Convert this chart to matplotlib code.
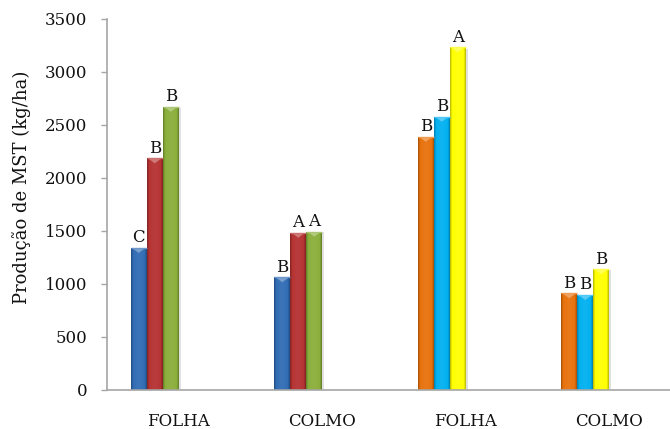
import numpy as np
import matplotlib
matplotlib.use("Agg")
import matplotlib.pyplot as plt
from matplotlib.patches import Rectangle, Polygon
from matplotlib.colors import to_rgb

# Categories along the x axis
categories = ["FOLHA", "COLMO", "FOLHA", "COLMO"]

# Series values (kg/ha) and significance letters per category
series_left = {
    "values": [[1337, 2184, 2671], [1060, 1481, 1491]],
    "letters": [["C", "B", "B"], ["B", "A", "A"]],
    "colors": ["#2F6BB3", "#B53131", "#8AAE3A"],
}
series_right = {
    "values": [[2388, 2577, 3233], [909, 893, 1136]],
    "letters": [["B", "B", "A"], ["B", "B", "B"]],
    "colors": ["#E8710B", "#00B0F0", "#FFFF00"],
}

y_ticks = [0, 500, 1000, 1500, 2000, 2500, 3000, 3500]
y_label = "Produção de MST (kg/ha)"

FONT = "DejaVu Serif"
W, H = 670, 429
fig = plt.figure(figsize=(W / 100, H / 100), dpi=100)
ax = fig.add_axes([107 / W, 39.5 / H, 563 / W, 370.5 / H])

cat_px = 143.5
x_right = -0.5 + 563 / cat_px
ax.set_xlim(-0.5, x_right)
ax.set_ylim(0, 3500)

bar_w = 16 / cat_px
offsets = [-2.5 * bar_w, -1.5 * bar_w, -0.5 * bar_w]


def shade(color, f):
    c = np.array(to_rgb(color))
    if f < 0:
        return c * (1 + f)
    return c + (1 - c) * f


def draw_bar(x_center, value, color, letter):
    x0 = x_center - bar_w / 2
    x1 = x_center + bar_w / 2
    # subtle shadow to the right
    ax.add_patch(Rectangle((x1, 0), bar_w * 0.12, value * 0.995,
                           facecolor="#000000", alpha=0.12, lw=0, zorder=1))
    rect = Rectangle((x0, 0), bar_w, value, facecolor=color, lw=0, zorder=2)
    ax.add_patch(rect)
    # horizontal gradient: darker edges, lighter middle
    n = 32
    t = np.linspace(-1, 1, n)
    prof = np.where(np.abs(t) > 0.75, -0.28 * (np.abs(t) - 0.75) / 0.25, 0.06 * (1 - np.abs(t)))
    img = np.array([[np.clip(shade(color, f), 0, 1) for f in prof]])
    im = ax.imshow(img, extent=(x0, x1, 0, value), aspect="auto",
                   interpolation="bilinear", zorder=3)
    im.set_clip_path(rect)
    # bevel highlight at the top
    dy = 3500 / 370.5
    tri = Polygon([(x0 + bar_w * 0.12, value - 0.5 * dy),
                   (x1 - bar_w * 0.12, value - 0.5 * dy),
                   (x_center, value - 5 * dy)],
                  closed=True, facecolor=shade(color, 0.35), lw=0, zorder=4)
    ax.add_patch(tri)
    ax.plot([x0, x1], [value, value], color=shade(color, 0.3), lw=1, zorder=4,
            solid_capstyle="butt")
    ax.annotate(letter, (x_center, value), xytext=(0, 4), textcoords="offset points",
                ha="center", va="baseline", fontsize=12, family=FONT, color="#111111",
                zorder=5)


for gi, cat_idx in enumerate([0, 1]):
    for si in range(3):
        draw_bar(cat_idx + offsets[si], series_left["values"][gi][si],
                 series_left["colors"][si], series_left["letters"][gi][si])
for gi, cat_idx in enumerate([2, 3]):
    for si in range(3):
        draw_bar(cat_idx + offsets[si], series_right["values"][gi][si],
                 series_right["colors"][si], series_right["letters"][gi][si])

ax.set_xticks(range(len(categories)))
ax.set_xticklabels(categories, family=FONT, fontsize=12, color="#111111")
ax.tick_params(axis="x", length=0, pad=17)
ax.set_yticks(y_ticks)
ax.set_yticklabels([str(v) for v in y_ticks], family=FONT, fontsize=12, color="#111111")
ax.tick_params(axis="y", length=4, width=1, color="#A6A6A6", pad=10, direction="out")

for side in ("top", "right"):
    ax.spines[side].set_visible(False)
for side in ("left", "bottom"):
    ax.spines[side].set_color("#A6A6A6")
    ax.spines[side].set_linewidth(1.2)
ax.spines["left"].set_zorder(6)

fig.text(22 / W, 1 - 187 / H, y_label, rotation=90, ha="center", va="center",
         family=FONT, fontsize=13, color="#111111")

fig.savefig("out.png", dpi=100)
